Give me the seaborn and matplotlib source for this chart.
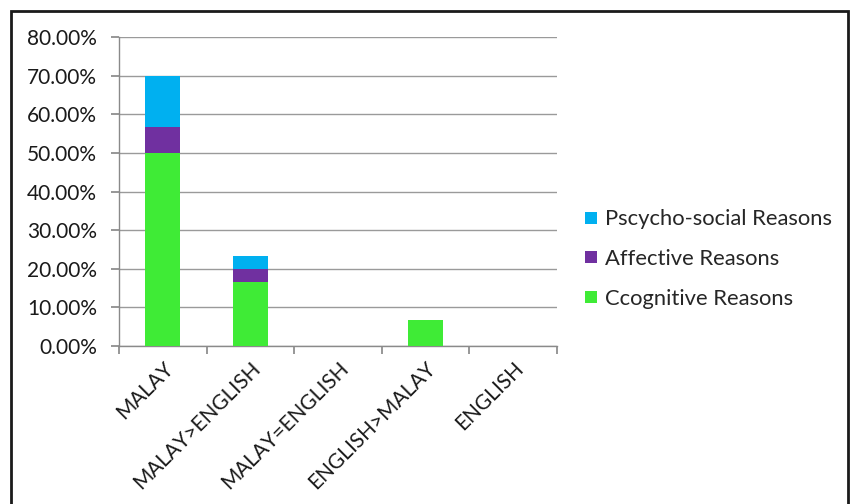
import numpy as np
import pandas as pd
import seaborn as sns
import matplotlib.pyplot as plt
from matplotlib.patches import Rectangle
from matplotlib.lines import Line2D

categories = ["MALAY", "MALAY>ENGLISH", "MALAY=ENGLISH", "ENGLISH>MALAY", "ENGLISH"]
cognitive = [50.00, 16.67, 0.0, 6.67, 0.0]
affective = [6.67, 3.33, 0.0, 0.0, 0.0]
psychosocial = [13.33, 3.33, 0.0, 0.0, 0.0]
series_names = ["Ccognitive Reasons", "Affective Reasons", "Pscycho-social Reasons"]
series_colors = ["#3FEB36", "#7030A0", "#00B0F0"]
y_ticks = [0, 10, 20, 30, 40, 50, 60, 70, 80]

sns.set_theme(style="white")
plt.rcParams["font.family"] = ["Lato", "DejaVu Sans"]
FS = 15

fig = plt.figure(figsize=(8.5, 5.04), dpi=100)
ax = fig.add_axes([119 / 850, 1 - 346 / 504, (557 - 119) / 850, (346 - 37) / 504])

# Stacked bars: draw cumulative totals from the top segment down
stack = [cognitive, affective, psychosocial]
cum = np.cumsum(np.array(stack), axis=0)
for i in range(len(stack) - 1, -1, -1):
    df = pd.DataFrame({"cat": categories, "val": cum[i]})
    sns.barplot(data=df, x="cat", y="val", color=series_colors[i], width=0.4,
                saturation=1, ax=ax, zorder=3, linewidth=0)

ax.set_xlim(-0.5, len(categories) - 0.5)
ax.set_ylim(0, 80)
ax.set_yticks(y_ticks)
ax.set_yticklabels([f"{v:.2f}%" for v in y_ticks], fontsize=FS, color="#1a1a1a")
ax.yaxis.grid(True, color="#9a9a9a", linewidth=1.0, zorder=0)
ax.set_axisbelow(True)

# Category boundaries carry the x ticks
ax.set_xticks(np.arange(-0.5, len(categories)), minor=False)
ax.set_xticklabels([""] * (len(categories) + 1))
ax.set_xticks(np.arange(len(categories)), minor=True)
ax.set_xticklabels(categories, minor=True, rotation=45, ha="right",
                   rotation_mode="anchor", fontsize=FS, color="#1a1a1a")
ax.tick_params(axis="x", which="major", length=6, color="#8a8a8a", direction="out", bottom=True)
ax.tick_params(axis="x", which="minor", length=0, pad=9, bottom=True)
ax.tick_params(axis="y", length=6, color="#8a8a8a", direction="out", left=True, pad=10)

ax.set_xlabel("")
ax.set_ylabel("")
for side in ["top", "right"]:
    ax.spines[side].set_visible(False)
for side in ["left", "bottom"]:
    ax.spines[side].set_color("#8a8a8a")
    ax.spines[side].set_linewidth(1.0)

handles = [Line2D([0], [0], marker="s", linestyle="", markersize=9,
                  markerfacecolor=series_colors[i], markeredgewidth=0)
           for i in range(len(series_names) - 1, -1, -1)]
labels = list(reversed(series_names))
fig.legend(handles, labels, loc="center left", bbox_to_anchor=(571 / 850, 1 - 259 / 504),
           frameon=False, fontsize=15.8, handletextpad=0.15, handlelength=1.0,
           labelspacing=0.9, borderaxespad=0)

# Outer chart frame
fig.patches.append(Rectangle((11 / 850, -0.05), (848 - 11) / 850, 1.05 - 11 / 504,
                             transform=fig.transFigure, fill=False,
                             edgecolor="#1a1a1a", linewidth=2.0))

fig.savefig("out.png", dpi=100)
